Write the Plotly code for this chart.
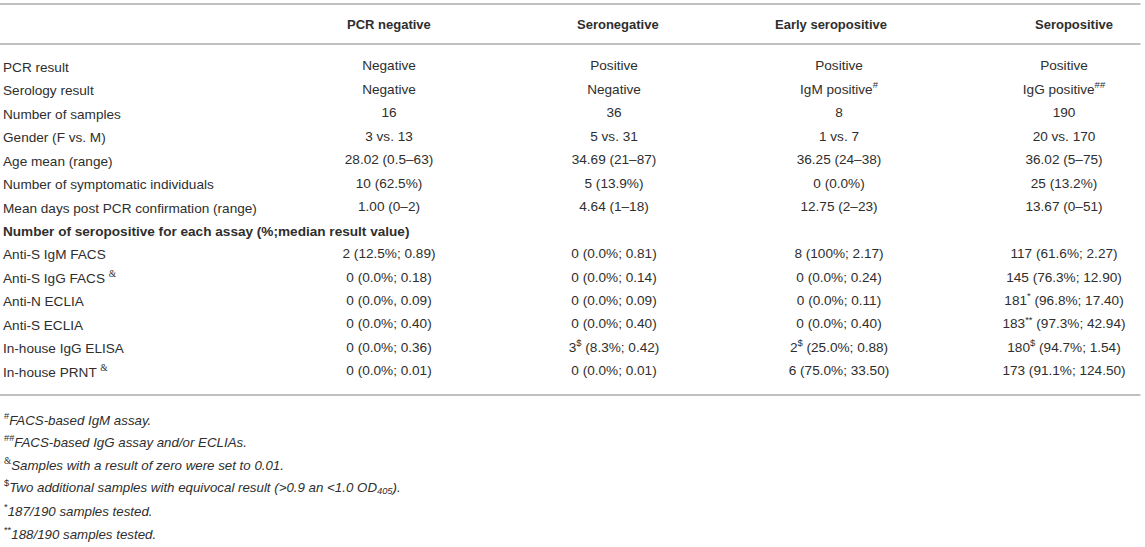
import plotly.graph_objects as go

# table columns (groups)
columns = ["PCR negative", "Seronegative", "Early seropositive", "Seropositive"]

# row labels (first column)
row_labels = [
    "PCR result",
    "Serology result",
    "Number of samples",
    "Gender (F vs. M)",
    "Age mean (range)",
    "Number of symptomatic individuals",
    "Mean days post PCR confirmation (range)",
    "<b>Number of seropositive for each assay (%;median result value)</b>",
    "Anti-S IgM FACS",
    "Anti-S IgG FACS <sup><span style='font-family:Liberation Serif'>&amp;</span></sup>",
    "Anti-N ECLIA",
    "Anti-S ECLIA",
    "In-house IgG ELISA",
    "In-house PRNT <sup><span style='font-family:Liberation Serif'>&amp;</span></sup>",
]

pcr_negative = [
    "Negative", "Negative", "16", "3 vs. 13", "28.02 (0.5–63)", "10 (62.5%)",
    "1.00 (0–2)", "",
    "2 (12.5%; 0.89)", "0 (0.0%; 0.18)", "0 (0.0%, 0.09)", "0 (0.0%; 0.40)",
    "0 (0.0%; 0.36)", "0 (0.0%; 0.01)",
]
seronegative = [
    "Positive", "Negative", "36", "5 vs. 31", "34.69 (21–87)", "5 (13.9%)",
    "4.64 (1–18)", "",
    "0 (0.0%; 0.81)", "0 (0.0%; 0.14)", "0 (0.0%; 0.09)", "0 (0.0%; 0.40)",
    "3<sup>$</sup> (8.3%; 0.42)", "0 (0.0%; 0.01)",
]
early_seropositive = [
    "Positive", "IgM positive<sup>#</sup>", "8", "1 vs. 7", "36.25 (24–38)", "0 (0.0%)",
    "12.75 (2–23)", "",
    "8 (100%; 2.17)", "0 (0.0%; 0.24)", "0 (0.0%; 0.11)", "0 (0.0%; 0.40)",
    "2<sup>$</sup> (25.0%; 0.88)", "6 (75.0%; 33.50)",
]
seropositive = [
    "Positive", "IgG positive<sup>##</sup>", "190", "20 vs. 170", "36.02 (5–75)", "25 (13.2%)",
    "13.67 (0–51)", "",
    "117 (61.6%; 2.27)", "145 (76.3%; 12.90)", "181<sup>*</sup> (96.8%; 17.40)",
    "183<sup>**</sup> (97.3%; 42.94)", "180<sup>$</sup> (94.7%; 1.54)", "173 (91.1%; 124.50)",
]

footnotes = [
    "<sup>#</sup><i>FACS-based IgM assay.</i>",
    "<sup>##</sup><i>FACS-based IgG assay and/or ECLIAs.</i>",
    "<sup><span style='font-family:Liberation Serif'>&amp;</span></sup><i>Samples with a result of zero were set to 0.01.</i>",
    "<sup>$</sup><i>Two additional samples with equivocal result (&gt;0.9 an &lt;1.0 OD<sub>405</sub>).</i>",
    "<sup>*</sup><i>187/190 samples tested.</i>",
    "<sup>**</sup><i>188/190 samples tested.</i>",
]

TXT = "#2e2e2e"
FONT = "Liberation Sans, Arial, sans-serif"
row_keys = ["r%d" % i for i in range(len(row_labels))]

fig = go.Figure()
for col, vals in zip(columns, [pcr_negative, seronegative, early_seropositive, seropositive]):
    fig.add_trace(go.Scatter(x=[col] * len(vals), y=row_keys, text=vals, mode="text",
                             textposition="middle center",
                             textfont=dict(family=FONT, size=13.6, color=TXT),
                             hoverinfo="skip", showlegend=False))

# column headers (small nudges to match the original header placement)
for col, dx in zip(columns, [0, 4, -8, 10]):
    fig.add_annotation(text="<b>%s</b>" % col, xref="x", yref="paper", x=col, xshift=dx,
                       y=(395 - 24) / 351, yanchor="middle", showarrow=False,
                       font=dict(family=FONT, size=13, color=TXT))

# rules of the table
for py in [4, 44, 395]:
    fig.add_shape(type="line", xref="paper", yref="paper", x0=0, x1=0.996,
                  y0=(395 - py) / 351, y1=(395 - py) / 351, layer="above",
                  line=dict(color="#ababab", width=1.6))

# footnotes
for i, note in enumerate(footnotes):
    fig.add_annotation(text=note, xref="paper", yref="paper", x=0.002,
                       y=(395 - (419 + i * 22.8)) / 351, xanchor="left", yanchor="middle",
                       showarrow=False, font=dict(family=FONT, size=13.3, color=TXT))

fig.update_layout(
    width=1145, height=547,
    margin=dict(l=0, r=0, t=44, b=152),
    paper_bgcolor="white", plot_bgcolor="white",
    font=dict(family=FONT, size=13.6, color=TXT),
    xaxis=dict(type="category", categoryorder="array", categoryarray=columns,
               range=[-1.729, 3.36], showgrid=False, zeroline=False,
               showline=False, showticklabels=False, ticks="", automargin=False,
               fixedrange=True),
    yaxis=dict(type="category", categoryorder="array", categoryarray=row_keys,
               tickvals=row_keys, ticktext=row_labels, range=[13.98, -0.98],
               ticklabelposition="inside", ticks="", showgrid=False, zeroline=False,
               showline=False, tickfont=dict(family=FONT, size=13.6, color=TXT),
               automargin=False, fixedrange=True),
)

fig.write_html("out.html", config={"displayModeBar": False},
               post_script="document.body.style.margin='0';")
